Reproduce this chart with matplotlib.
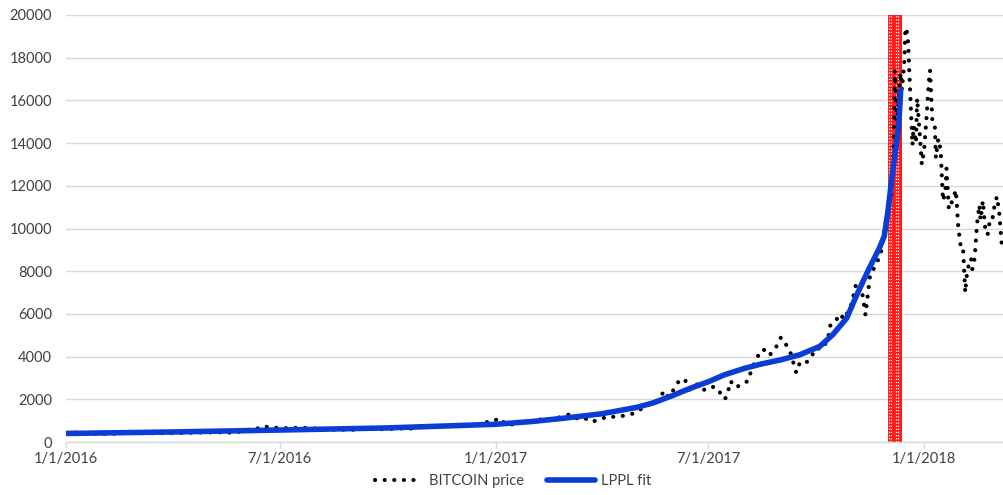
import numpy as np
import pandas as pd
import matplotlib
matplotlib.use("Agg")
import matplotlib.pyplot as plt

# --- data ---
price_dates = [
    "2016-01-01", "2016-01-08", "2016-01-15", "2016-01-22", "2016-01-29", "2016-02-05", "2016-02-12",
    "2016-02-19", "2016-02-26", "2016-03-04", "2016-03-11", "2016-03-18", "2016-03-25", "2016-04-01",
    "2016-04-08", "2016-04-15", "2016-04-22", "2016-04-29", "2016-05-06", "2016-05-13", "2016-05-20",
    "2016-05-27", "2016-06-03", "2016-06-10", "2016-06-17", "2016-06-24", "2016-07-01", "2016-07-08",
    "2016-07-15", "2016-07-22", "2016-07-29", "2016-08-05", "2016-08-12", "2016-08-19", "2016-08-26",
    "2016-09-02", "2016-09-09", "2016-09-16", "2016-09-23", "2016-09-30", "2016-10-07", "2016-10-14",
    "2016-10-21", "2016-10-28", "2016-11-04", "2016-11-11", "2016-11-18", "2016-11-25", "2016-12-02",
    "2016-12-09", "2016-12-16", "2016-12-23", "2016-12-30", "2017-01-04", "2017-01-08", "2017-01-12",
    "2017-01-18", "2017-01-25", "2017-02-01", "2017-02-08", "2017-02-15", "2017-02-22", "2017-03-01",
    "2017-03-04", "2017-03-10", "2017-03-16", "2017-03-24", "2017-03-31", "2017-04-07", "2017-04-14",
    "2017-04-21", "2017-04-28", "2017-05-05", "2017-05-10", "2017-05-15", "2017-05-20", "2017-05-25",
    "2017-05-28", "2017-06-01", "2017-06-06", "2017-06-11", "2017-06-15", "2017-06-18", "2017-06-22",
    "2017-06-26", "2017-07-01", "2017-07-06", "2017-07-10", "2017-07-15", "2017-07-17", "2017-07-20",
    "2017-07-25", "2017-07-30", "2017-08-04", "2017-08-07", "2017-08-12", "2017-08-17", "2017-08-22",
    "2017-08-27", "2017-09-01", "2017-09-05", "2017-09-09", "2017-09-14", "2017-09-17", "2017-09-21",
    "2017-09-26", "2017-10-01", "2017-10-06", "2017-10-11", "2017-10-13", "2017-10-17", "2017-10-21",
    "2017-10-25", "2017-10-31", "2017-11-04", "2017-11-08", "2017-11-12", "2017-11-16", "2017-11-20",
    "2017-11-25", "2017-11-28", "2017-12-01", "2017-12-04", "2017-12-06", "2017-12-07", "2017-12-09",
    "2017-12-11", "2017-12-12", "2017-12-13", "2017-12-15", "2017-12-16", "2017-12-18", "2017-12-19",
    "2017-12-20", "2017-12-22", "2017-12-23", "2017-12-25", "2017-12-26", "2017-12-28", "2017-12-30",
    "2018-01-01", "2018-01-03", "2018-01-05", "2018-01-06", "2018-01-08", "2018-01-10", "2018-01-11",
    "2018-01-13", "2018-01-15", "2018-01-17", "2018-01-19", "2018-01-20", "2018-01-22", "2018-01-25",
    "2018-01-28", "2018-01-30", "2018-02-01", "2018-02-03", "2018-02-05", "2018-02-06", "2018-02-08",
    "2018-02-10", "2018-02-11", "2018-02-13", "2018-02-15", "2018-02-17", "2018-02-18", "2018-02-20",
    "2018-02-22", "2018-02-24", "2018-02-26", "2018-02-28", "2018-03-02", "2018-03-04", "2018-03-06",
    "2018-03-08", "2018-03-10",
]
price_values = [
    430, 450, 380, 385, 375, 385, 395,
    420, 430, 410, 415, 410, 415, 415,
    420, 430, 445, 450, 460, 455, 440,
    470, 570, 580, 750, 660, 675, 640,
    665, 660, 655, 575, 585, 575, 578,
    575, 625, 605, 600, 610, 615, 640,
    630, 690, 700, 715, 750, 735, 770,
    770, 780, 920, 960, 1130, 910, 780,
    870, 895, 985, 1050, 1010, 1120, 1220,
    1280, 1100, 1170, 940, 1080, 1190, 1180,
    1240, 1330, 1550, 1750, 1720, 2050, 2400,
    2100, 2400, 2850, 2950, 2450, 2650, 2700,
    2450, 2450, 2600, 2400, 2000, 2150, 2850,
    2550, 2750, 2850, 3400, 4000, 4350, 4050,
    4350, 4900, 4600, 4200, 3250, 3700, 3650,
    3900, 4400, 4350, 4800, 5450, 5600, 6000,
    5750, 6450, 7400, 7450, 5950, 7850, 8200,
    8800, 9900, 10900, 11600, 13700, 17400, 15000,
    16700, 17300, 16500, 17700, 19400, 19100, 17800,
    16600, 13900, 14800, 14000, 16100, 14600, 13000,
    13700, 15200, 16900, 17400, 15000, 14900, 13300,
    14200, 13700, 11300, 11700, 12800, 10900, 11300,
    11800, 10100, 9200, 9200, 7000, 7700, 8300,
    8600, 8100, 8600, 10200, 11100, 10400, 11300,
    10000, 9700, 10400, 10400, 11100, 11500, 10700,
    9300, 9000,
]

fit_dates = [
    "2016-01-01", "2016-04-01", "2016-07-01", "2016-10-01", "2017-01-01", "2017-02-01", "2017-03-01",
    "2017-04-01", "2017-05-01", "2017-05-15", "2017-06-01", "2017-06-15", "2017-07-01", "2017-07-15",
    "2017-08-01", "2017-08-15", "2017-09-01", "2017-09-17", "2017-10-04", "2017-10-15", "2017-10-27",
    "2017-11-04", "2017-11-14", "2017-11-24", "2017-11-28", "2017-12-01", "2017-12-04", "2017-12-07",
    "2017-12-10", "2017-12-11", "2017-12-12",
]
fit_values = [
    400, 470, 560, 660, 830, 960, 1120,
    1320, 1620, 1830, 2180, 2500, 2820, 3150,
    3450, 3650, 3850, 4085, 4475, 5020, 5800,
    6820, 8000, 9100, 9640, 10740, 12150, 13400,
    14600, 15500, 16500,
]

# critical time window (red band)
tc_start, tc_end = "2017-12-01", "2017-12-13"
tc_dotted = ["2017-12-02 10:00", "2017-12-03 16:00", "2017-12-07 14:00", "2017-12-10 02:00"]

tick_dates = ["2016-01-01", "2016-07-01", "2017-01-01", "2017-07-01", "2018-01-01"]
tick_labels = ["1/1/2016", "7/1/2016", "1/1/2017", "7/1/2017", "1/1/2018"]

plt.rcParams['font.family'] = ['Lato', 'DejaVu Sans']
text_color = '#404040'
grid_color = '#D9D9D9'

fig = plt.figure(figsize=(10.04, 4.95), dpi=100)
ax = fig.add_axes([66 / 1004, 1 - 442 / 495, 1 - 66 / 1004, (442 - 15) / 495])

pd_price = pd.to_datetime(price_dates)
pd_fit = pd.to_datetime(fit_dates)

# red band of critical times, with white dotted streaks
ax.axvspan(pd.Timestamp(tc_start), pd.Timestamp(tc_end), color='#FF1A1A', lw=0, zorder=1)
for d in tc_dotted:
    ax.axvline(pd.Timestamp(d), color='white', lw=0.9, linestyle=(0, (1, 1.5)), zorder=1.5)

ax.plot(pd_price, price_values, color='black', lw=3.0, linestyle=(0, (0.01, 2.3)),
        dash_capstyle='round', label='BITCOIN price', zorder=2)
ax.plot(pd_fit, fit_values, color='#0A3CD6', lw=4.0, solid_capstyle='round',
        label='LPPL fit', zorder=3)

ax.set_ylim(0, 20000)
ax.set_yticks(np.arange(0, 20001, 2000))
ax.set_xlim(pd.Timestamp("2016-01-01"), pd.Timestamp("2018-03-10"))
ax.set_xticks(pd.to_datetime(tick_dates))
ax.set_xticklabels(tick_labels)

ax.grid(axis='y', color=grid_color, lw=1)
ax.set_axisbelow(True)
for side in ['top', 'right', 'left']:
    ax.spines[side].set_visible(False)
ax.spines['bottom'].set_color(grid_color)
ax.spines['bottom'].set_linewidth(1)
ax.tick_params(axis='y', length=0, pad=10, labelsize=10.5, labelcolor=text_color)
ax.tick_params(axis='x', length=4, width=1, color=grid_color, pad=3,
               labelsize=10.5, labelcolor=text_color)

leg = fig.legend(loc='lower center', bbox_to_anchor=(0.511, -0.012), ncol=2, frameon=False,
                 fontsize=10.5, handlelength=3.3, handletextpad=0.4, columnspacing=1.6)
for t in leg.get_texts():
    t.set_color(text_color)

fig.savefig('out.png', dpi=100)
